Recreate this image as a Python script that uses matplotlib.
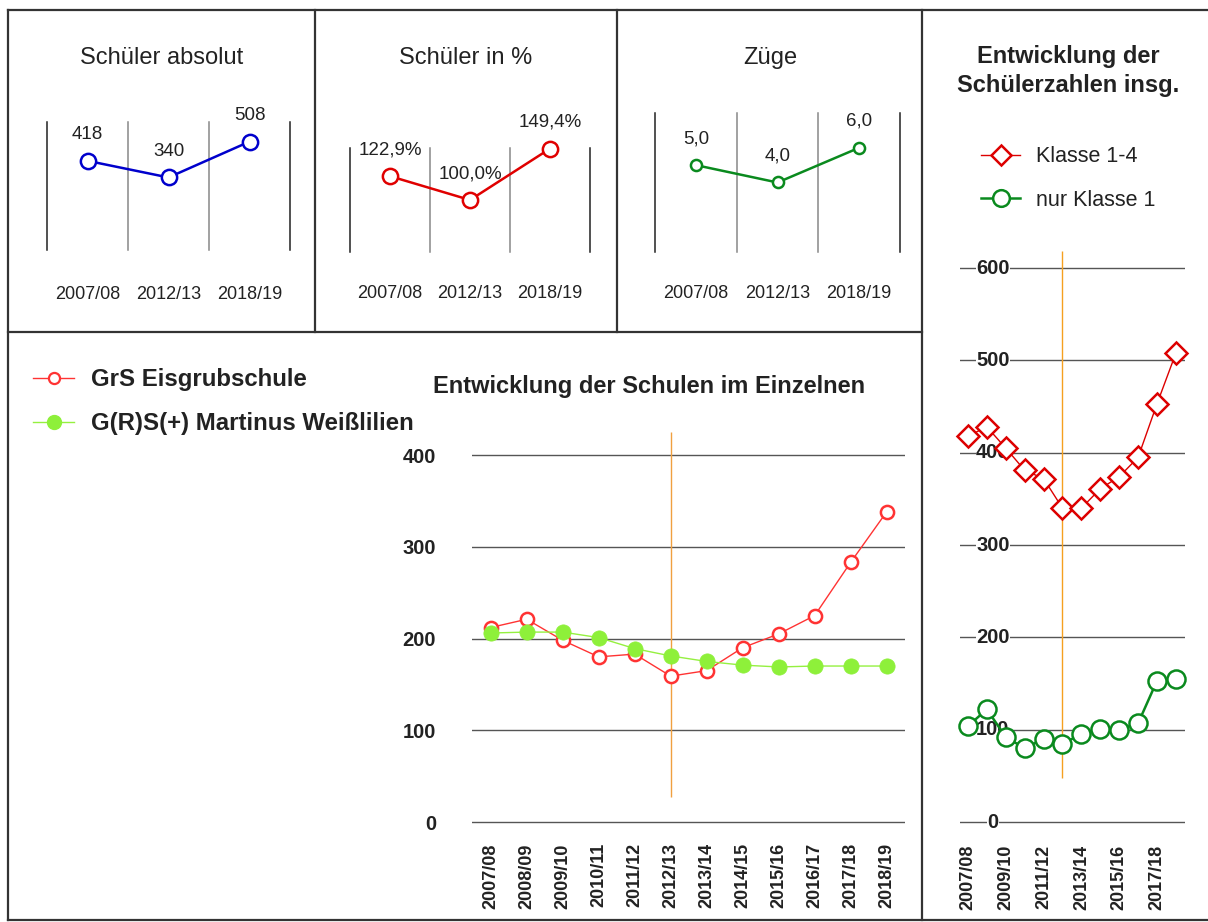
import matplotlib
matplotlib.use("Agg")
import matplotlib.pyplot as plt
from matplotlib.lines import Line2D
import numpy as np

plt.rcParams["font.family"] = ["Liberation Sans", "DejaVu Sans"]

# --- data -------------------------------------------------------------------
YEARS_SHORT = ["2007/08", "2012/13", "2018/19"]
SCHUELER_ABS = [418, 340, 508]
SCHUELER_PCT = [122.9, 100.0, 149.4]
ZUEGE = [5.0, 4.0, 6.0]

YEARS = ["2007/08", "2008/09", "2009/10", "2010/11", "2011/12", "2012/13",
         "2013/14", "2014/15", "2015/16", "2016/17", "2017/18", "2018/19"]
EISGRUB = [212, 221, 198, 180, 183, 159, 165, 190, 205, 225, 283, 338]
MARTINUS = [206, 207, 207, 201, 189, 181, 175, 171, 169, 170, 170, 170]
KLASSE_1_4 = [418, 428, 405, 381, 372, 340, 340, 361, 374, 395, 453, 508]
NUR_KLASSE_1 = [104, 122, 92, 80, 90, 85, 95, 101, 100, 107, 153, 155]
REF_YEAR = "2012/13"

W, H = 1208, 922
fig = plt.figure(figsize=(W / 100, H / 100), dpi=100)


def px_axes(x0, y0, x1, y1):
    return fig.add_axes([x0 / W, 1 - y1 / H, (x1 - x0) / W, (y1 - y0) / H])


# background layer for frames and titles (pixel coords)
bg = fig.add_axes([0, 0, 1, 1])
bg.set_xlim(0, W)
bg.set_ylim(H, 0)
bg.axis("off")
frame = dict(color="#333333", lw=1.6)
bg.plot([8, W], [10, 10], **frame)
bg.plot([8, W], [920, 920], **frame)
bg.plot([8, 8], [10, 920], **frame)
bg.plot([922, 922], [10, 920], **frame)
bg.plot([315, 315], [10, 332], **frame)
bg.plot([617, 617], [10, 332], **frame)
bg.plot([8, 922], [332, 332], **frame)

TXT = "#222222"
bg.text(162, 58, "Schüler absolut", ha="center", va="center", fontsize=17, color=TXT)
bg.text(466, 58, "Schüler in %", ha="center", va="center", fontsize=17, color=TXT)
bg.text(770, 58, "Züge", ha="center", va="center", fontsize=17, color=TXT)
bg.text(1068, 71, "Entwicklung der\nSchülerzahlen insg.", ha="center", va="center",
        fontsize=17, fontweight="bold", color=TXT, linespacing=1.3)
bg.text(649, 386, "Entwicklung der Schulen im Einzelnen", ha="center", va="center",
        fontsize=17, fontweight="bold", color=TXT)


def de_num(v, fmt):
    return format(v, fmt).replace(".", ",")


def small_panel(box, values, color, ylim, fmt, suffix, ms, pad):
    ax = px_axes(*box)
    x = np.arange(len(values))
    ax.set_xlim(-0.5, len(values) - 0.5)
    ax.set_ylim(*ylim)
    for i, xv in enumerate(np.arange(-0.5, len(values))):
        outer = i == 0 or i == len(values)
        ax.axvline(xv, color="#222222" if outer else "#888888", lw=1.1, zorder=1,
                   clip_on=False)
    ax.plot(x, values, color=color, lw=1.8, marker="o", ms=ms, mfc="white",
            mec=color, mew=1.8, zorder=3, clip_on=False)
    for xi, v in zip(x, values):
        ax.annotate(de_num(v, fmt) + suffix, (xi, v), xytext=(0, 19),
                    textcoords="offset points", ha="center", va="center",
                    fontsize=13.5, color=TXT)
    ax.set_xticks(x)
    ax.set_xticklabels(YEARS_SHORT, fontsize=13, color=TXT)
    ax.tick_params(axis="x", length=0, pad=pad)
    ax.set_yticks([])
    for s in ax.spines.values():
        s.set_visible(False)
    ax.patch.set_alpha(0)
    return ax


small_panel((47, 122, 290, 250), SCHUELER_ABS, "#0000cc", (0, 600), "d", "", 11, 26)
small_panel((350, 148, 590, 252), SCHUELER_PCT, "#e00000", (50, 150), ".1f", "%", 11, 24)
small_panel((655, 113, 900, 252), ZUEGE, "#0a8a1e", (0, 8), ".1f", "", 8, 24)

# --- bottom chart: schools ---------------------------------------------------
ax = px_axes(472, 427.5, 905, 840.35)
x = np.arange(len(YEARS))
ref = YEARS.index(REF_YEAR)
ax.set_xlim(-0.52, 11.51)
ax.set_ylim(-20, 430)
ax.set_yticks([0, 100, 200, 300, 400])
ax.set_yticklabels(["0", "100", "200", "300", "400"], fontsize=14.5,
                   fontweight="bold", color=TXT)
ax.tick_params(axis="y", length=0, pad=26)
ax.grid(axis="y", color="#555555", lw=1.0, zorder=1)
ax.set_axisbelow(True)
ax.vlines(ref, 27, 425, color="#f0a040", lw=1.0, zorder=2)
ax.plot(x, EISGRUB, color="#ff3333", lw=1.0, marker="o", ms=9.5, mfc="white",
        mec="#ff3333", mew=1.8, zorder=3)
ax.plot(x, MARTINUS, color="#95f040", lw=1.0, marker="o", ms=11, mfc="#8ef03a",
        mec="#8ef03a", mew=0.5, zorder=4)
ax.set_xticks(x)
ax.set_xticklabels(YEARS, rotation=90, fontsize=13, fontweight="bold", color=TXT)
ax.tick_params(axis="x", length=0, pad=2)
for s in ax.spines.values():
    s.set_visible(False)
ax.patch.set_alpha(0)

h_eis = Line2D([], [], color="#ff3333", lw=1.0, marker="o", ms=8, mfc="white",
               mec="#ff3333", mew=1.6)
h_mar = Line2D([], [], color="#95f040", lw=1.0, marker="o", ms=10, mfc="#8ef03a",
               mec="#8ef03a")
leg1 = bg.legend([h_eis, h_mar], ["GrS Eisgrubschule", "G(R)S(+) Martinus Weißlilien"],
                 loc="center left", bbox_to_anchor=(26, 401.5),
                 bbox_transform=bg.transData, frameon=False,
                 prop=dict(size=17.3, weight="bold"), handlelength=1.7,
                 handletextpad=0.7, labelspacing=0.88, labelcolor=TXT,
                 borderaxespad=0, borderpad=0.3)
bg.add_artist(leg1)

# --- right chart: totals -----------------------------------------------------
ar = px_axes(960, 245, 1185, 840.5)
ar.set_xlim(-0.42, 11.48)
ar.set_ylim(-20, 625)
yt = [0, 100, 200, 300, 400, 500, 600]
ar.set_yticks(yt)
ar.set_yticklabels([])
ar.tick_params(axis="y", length=0)
ar.grid(axis="y", color="#555555", lw=1.0, zorder=1)
ar.set_axisbelow(True)
for v in yt:
    ar.text(1.32, v, str(v), ha="center", va="center", fontsize=14.5,
            fontweight="bold", color=TXT, zorder=2,
            bbox=dict(fc="white", ec="none", pad=0.5))
ar.vlines(ref, 48, 619, color="#f5a020", lw=1.0, zorder=2.5)
ar.plot(x, KLASSE_1_4, color="#dd0000", lw=1.0, marker="D", ms=11, mfc="white",
        mec="#dd0000", mew=1.8, zorder=3, clip_on=False)
ar.plot(x, NUR_KLASSE_1, color="#0a8a1e", lw=1.8, marker="o", ms=13, mfc="white",
        mec="#0a8a1e", mew=1.8, zorder=3, clip_on=False)
ar.set_xticks(x[::2])
ar.set_xticklabels(YEARS[::2], rotation=90, fontsize=13, fontweight="bold", color=TXT)
ar.tick_params(axis="x", length=0, pad=3)
for s in ar.spines.values():
    s.set_visible(False)
ar.patch.set_alpha(0)

h_k14 = Line2D([], [], color="#dd0000", lw=1.0, marker="D", ms=10, mfc="white",
               mec="#dd0000", mew=1.8)
h_k1 = Line2D([], [], color="#0a8a1e", lw=1.8, marker="o", ms=12, mfc="white",
              mec="#0a8a1e", mew=1.8)
bg.legend([h_k14, h_k1], ["Klasse 1-4", "nur Klasse 1"], loc="center left",
          bbox_to_anchor=(975, 178.5), bbox_transform=bg.transData, frameon=False,
          prop=dict(size=15.5), handlelength=1.8, handletextpad=0.75,
          labelspacing=1.05, labelcolor=TXT, borderaxespad=0, borderpad=0.3)

fig.savefig("out.png", dpi=100, facecolor="white")
